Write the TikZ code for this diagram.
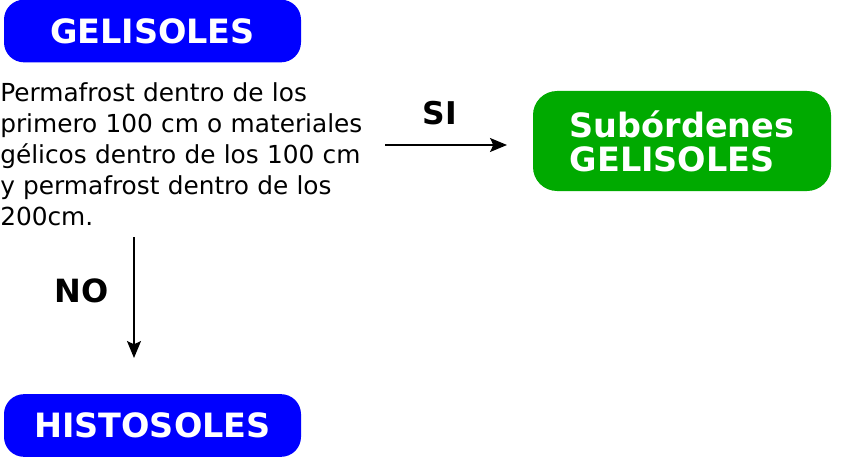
\documentclass[tikz,border=0pt]{standalone}
\usepackage{fontspec}
\setmainfont{DejaVu Sans}
\usetikzlibrary{arrows.meta}
\definecolor{boxblue}{RGB}{0,0,255}
\definecolor{boxgreen}{RGB}{0,170,0}
\tikzset{
  titlebox/.style={rounded corners=15pt, inner sep=0pt, text=white,
    font=\fontsize{25.1}{25.5}\selectfont\bfseries},
  bluebox/.style={titlebox, fill=boxblue, minimum width=222.75pt, minimum height=47pt},
  greenbox/.style={titlebox, fill=boxgreen, rounded corners=18pt, minimum width=223.5pt, minimum height=75pt, align=left},
  bodytext/.style={inner sep=0pt, align=left, text width=300pt,
    font=\fontsize{18.6}{23.25}\selectfont},
  label/.style={inner sep=0pt, font=\fontsize{#1}{#1}\selectfont\bfseries},
  arrow/.style={line width=1.2pt, -{Stealth[length=12.75pt, width=10.5pt, inset=2.5pt]}}
}
\begin{document}
\begin{tikzpicture}[x=0.75pt, y=-0.75pt]
\useasboundingbox (0,0) rectangle (848,474);
\node[bluebox] (gel) at (152.5,31) {GELISOLES};
\node[bodytext, anchor=north west] (para) at (0,82) {Permafrost dentro de los\\primero 100 cm o materiales\\gélicos dentro de los 100 cm\\y permafrost dentro de los\\200cm.};
\node[greenbox] (sub) at (682,141) {Subórdenes\\GELISOLES};
\node[bluebox] (his) at (152.5,425.5) {HISTOSOLES};
\coordinate (siA) at (385,145);
\coordinate (siB) at (507,145);
\coordinate (noA) at (134,237);
\coordinate (noB) at (134,358);
\draw[arrow] (siA) -- (siB);
\draw[arrow] (noA) -- (noB);
\node[label=23.5, anchor=base] (si) at (440,125) {SI};
\node[label=24, anchor=base] (no) at (81.5,302) {NO};
\end{tikzpicture}
\end{document}
